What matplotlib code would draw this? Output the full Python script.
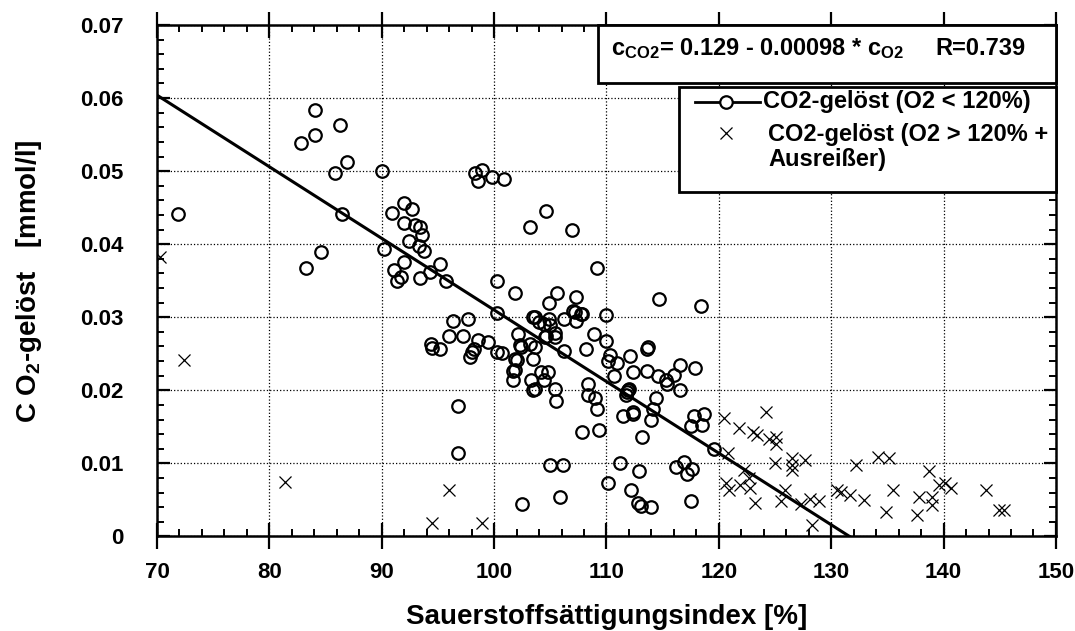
import matplotlib
matplotlib.use("Agg")
import matplotlib.pyplot as plt
from matplotlib.patches import Rectangle
from matplotlib.ticker import MultipleLocator

# O2 saturation index [%] and dissolved CO2 [mmol/l]
o2_low = [71.9, 84.05, 86.3, 84.05, 82.8, 86.9, 85.8, 90.0, 86.5, 84.6, 83.3,
          92.0, 92.7, 90.9, 92.0, 93.0, 93.4, 93.6, 92.4, 93.3, 93.8, 90.2, 92.0,
          95.2, 91.1, 91.7, 91.4, 93.4, 94.3, 95.7,
          94.4, 94.5, 95.2, 96.0, 97.2,
          98.3, 98.9, 98.6, 99.8, 100.9, 104.6, 103.2, 106.9, 109.2,
          100.3, 101.9, 105.6, 104.9, 107.3, 107.0, 107.7, 107.3, 114.7, 118.4,
          110.0, 100.3, 97.7, 96.3, 103.5, 104.0, 104.9, 105.0, 106.2, 102.1,
          98.6, 99.5, 108.9, 110.0, 113.7, 104.5, 105.4,
          98.2, 97.9, 98.0, 102.3, 100.3, 100.7, 103.2, 103.6, 103.5, 102.0,
          101.9, 101.7, 103.3, 104.2, 104.8, 104.4, 103.5, 105.4, 105.5, 106.2,
          108.2, 110.3, 110.1, 110.9, 110.7, 112.1, 113.6, 112.4, 113.6, 114.6,
          115.3, 116.0, 116.5, 117.9, 116.5, 115.4, 108.4, 108.4, 109.0, 109.2,
          111.8, 112.0, 114.4, 114.1, 112.4, 111.5, 114.0, 113.2, 117.8, 118.7,
          117.5, 118.5, 119.6, 107.8, 109.3, 96.8, 96.8, 105.0, 106.1, 111.2,
          112.9, 110.1, 112.2, 112.8, 114.0, 113.1, 105.9, 102.5, 117.5, 116.2,
          116.9, 117.2, 117.6, 102.4, 101.9, 103.6, 104.4, 107.2, 107.8, 105.4,
          104.6, 111.9, 111.7, 112.4, 101.7, 103.6]
co2_low = [0.0442, 0.0584, 0.0563, 0.0549, 0.0538, 0.0513, 0.0497, 0.0500, 0.0442, 0.0389, 0.0367,
           0.0456, 0.0448, 0.0443, 0.0429, 0.0426, 0.0423, 0.0413, 0.0405, 0.0397, 0.0391, 0.0394, 0.0375,
           0.0373, 0.0365, 0.0355, 0.0349, 0.0354, 0.0362, 0.0350,
           0.0264, 0.0258, 0.0257, 0.0274, 0.0274,
           0.0498, 0.0502, 0.0486, 0.0492, 0.0489, 0.0446, 0.0424, 0.0420, 0.0368,
           0.0349, 0.0333, 0.0333, 0.0319, 0.0328, 0.0309, 0.0304, 0.0295, 0.0325, 0.0316,
           0.0303, 0.0306, 0.0298, 0.0295, 0.0301, 0.0293, 0.0298, 0.0289, 0.0298, 0.0277,
           0.0269, 0.0266, 0.0277, 0.0268, 0.0259, 0.0273, 0.0273,
           0.0257, 0.0246, 0.0252, 0.0262, 0.0252, 0.0251, 0.0264, 0.0259, 0.0243, 0.0241,
           0.0228, 0.0214, 0.0214, 0.0225, 0.0225, 0.0214, 0.0201, 0.0202, 0.0186, 0.0254,
           0.0257, 0.0248, 0.0240, 0.0237, 0.0219, 0.0247, 0.0257, 0.0225, 0.0227, 0.0219,
           0.0214, 0.0221, 0.0234, 0.0230, 0.0200, 0.0209, 0.0209, 0.0193, 0.0189, 0.0174,
           0.0198, 0.0202, 0.0189, 0.0175, 0.0170, 0.0165, 0.0159, 0.0136, 0.0165, 0.0167,
           0.0151, 0.0153, 0.0120, 0.0143, 0.0146, 0.0178, 0.0114, 0.0098, 0.0098, 0.0100,
           0.0089, 0.0073, 0.0063, 0.0046, 0.0041, 0.0042, 0.0054, 0.0044, 0.0049, 0.0095,
           0.0102, 0.0086, 0.0093, 0.0259, 0.0243, 0.0300, 0.0291, 0.0307, 0.0305, 0.0278,
           0.0275, 0.0200, 0.0193, 0.0168, 0.0227, 0.0202]

o2_high = [70.3, 72.4, 81.4, 94.5, 96.0, 98.9,
           120.5, 121.8, 123.0, 123.4, 124.2, 124.5, 125.1, 125.1, 125.0, 126.5,
           126.5, 126.5, 127.7, 120.8, 120.6, 120.9, 121.9, 122.2, 122.7, 122.8,
           123.2, 125.5, 125.9, 127.3, 128.1, 128.3, 128.9, 130.5, 130.9, 131.7,
           132.9, 132.2, 134.2, 135.1, 135.5, 134.9, 137.6, 137.8, 138.7, 139.0,
           139.0, 139.6, 140.1, 140.7, 143.8, 144.9, 145.4]
co2_high = [0.0383, 0.0242, 0.0075, 0.0019, 0.0064, 0.0019,
            0.0162, 0.0148, 0.0143, 0.0139, 0.0170, 0.0133, 0.0136, 0.0127, 0.0100, 0.0108,
            0.0098, 0.0091, 0.0104, 0.0114, 0.0073, 0.0064, 0.0070, 0.0091, 0.0080, 0.0066,
            0.0046, 0.0049, 0.0064, 0.0045, 0.0051, 0.0016, 0.0049, 0.0064, 0.0061, 0.0057,
            0.0050, 0.0098, 0.0109, 0.0107, 0.0064, 0.0034, 0.0029, 0.0054, 0.0089, 0.0054,
            0.0043, 0.0070, 0.0073, 0.0067, 0.0064, 0.0036, 0.0036]

# regression from the box: c_CO2 = 0.129 - 0.00098 * c_O2, R = 0.739
intercept = 0.129
slope = -0.00098
r_value = 0.739

x_ticks = [70, 80, 90, 100, 110, 120, 130, 140, 150]
y_ticks = [0, 0.01, 0.02, 0.03, 0.04, 0.05, 0.06, 0.07]
y_tick_labels = ['0', '0.01', '0.02', '0.03', '0.04', '0.05', '0.06', '0.07']
legend_labels = ['CO2-gelöst (O2 < 120%)', 'CO2-gelöst (O2 > 120% +\nAusreißer)']

plt.rcParams['font.family'] = ['Liberation Sans', 'DejaVu Sans']
plt.rcParams['font.weight'] = 'bold'
plt.rcParams['mathtext.fontset'] = 'custom'
plt.rcParams['mathtext.rm'] = 'Liberation Sans:bold'
plt.rcParams['mathtext.it'] = 'Liberation Sans:bold'
plt.rcParams['mathtext.bf'] = 'Liberation Sans:bold'

fig = plt.figure(figsize=(10.75, 6.31), dpi=100)
ax = fig.add_axes([0.146, 0.1498, 0.8363, 0.8106])

# fit line, from x=70 down to where it reaches zero
x_start = 70
x_end = -intercept / slope
ax.plot([x_start, x_end], [intercept + slope * x_start, 0], color='black', lw=2.2, zorder=3)

circle_style = dict(marker='o', markersize=9, markerfacecolor='none',
                    markeredgecolor='black', markeredgewidth=1.6)
cross_style = dict(marker='x', markersize=9, color='black', markeredgewidth=0.9)

ax.plot(o2_low, co2_low, linestyle='none', zorder=4, **circle_style)
ax.plot(o2_high, co2_high, linestyle='none', zorder=4, **cross_style)

ax.set_xlim(70, 150)
ax.set_ylim(0, 0.07)
ax.set_xticks(x_ticks)
ax.set_yticks(y_ticks)
ax.set_yticklabels(y_tick_labels)
ax.xaxis.set_minor_locator(MultipleLocator(2))
ax.yaxis.set_minor_locator(MultipleLocator(0.002))

ax.grid(True, which='major', color='black', linestyle=':', linewidth=0.9)
ax.set_axisbelow(True)

for side in ax.spines.values():
    side.set_linewidth(1.8)

ax.tick_params(axis='x', which='major', direction='inout', length=19, width=1.6,
               top=True, bottom=True, labelsize=16, pad=9)
ax.tick_params(axis='x', which='minor', direction='in', length=5, width=1.4,
               top=True, bottom=True)
ax.tick_params(axis='y', which='major', direction='in', length=9, width=1.6,
               left=True, right=True, labelsize=16, pad=24)
ax.tick_params(axis='y', which='minor', direction='in', length=5, width=1.4,
               left=True, right=True)

ax.set_xlabel('Sauerstoffsättigungsindex [%]', fontsize=20, fontweight='bold')
ax.xaxis.set_label_coords(0.5, -0.132)
ax.set_ylabel(r'C O$_{2}$-gelöst   [mmol/l]', fontsize=20, fontweight='bold')
ax.yaxis.set_label_coords(-0.126, 0.5)

# equation box
ax.add_patch(Rectangle((0.491, 0.8866), 0.509, 0.1134, transform=ax.transAxes,
                       facecolor='white', edgecolor='black', lw=2, zorder=5, clip_on=False))
ax.text(0.5055, 0.9413, r'c$_{\rm CO2}$= 0.129 - 0.00098 * c$_{\rm O2}$',
        transform=ax.transAxes, fontsize=17, va='baseline', ha='left', zorder=6)
ax.text(0.9656, 0.9413, f'R={r_value}',
        transform=ax.transAxes, fontsize=17, va='baseline', ha='right', zorder=6)

# legend box, drawn by hand so the symbols sit like in the original
ax.add_patch(Rectangle((0.581, 0.6735), 0.419, 0.2053, transform=ax.transAxes,
                       facecolor='white', edgecolor='black', lw=2, zorder=5, clip_on=False))
ax.plot([0.5987, 0.6707], [0.8495, 0.8495], transform=ax.transAxes, color='black',
        lw=2, zorder=6, clip_on=False)
ax.plot([0.633], [0.8495], transform=ax.transAxes, zorder=7, clip_on=False,
        markerfacecolor='white', **{k: v for k, v in circle_style.items() if k != 'markerfacecolor'})
ax.plot([0.633], [0.7889], transform=ax.transAxes, linestyle='none', zorder=7,
        clip_on=False, **cross_style)
ax.text(0.674, 0.8495, legend_labels[0], transform=ax.transAxes, fontsize=17,
        va='center', ha='left', zorder=7)
ax.text(0.6796, 0.7615, legend_labels[1], transform=ax.transAxes, fontsize=17,
        va='center', ha='left', linespacing=1.15, zorder=7)

fig.savefig('out.png', dpi=100)
